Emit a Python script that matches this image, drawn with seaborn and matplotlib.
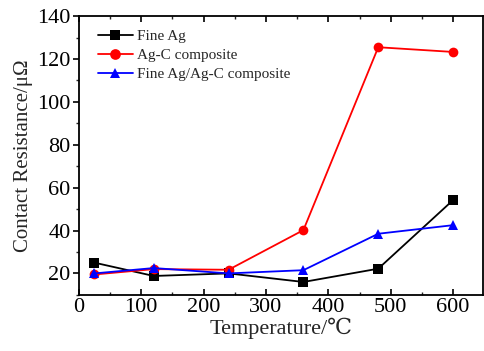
import pandas as pd
import matplotlib
matplotlib.use('Agg')
import matplotlib.pyplot as plt
import seaborn as sns
from matplotlib.ticker import MultipleLocator

# Data
temperature = [25, 120, 240, 360, 480, 600]
fine_ag = [25.0, 18.8, 20.0, 16.0, 22.2, 54.2]
ag_c = [19.5, 22.0, 21.7, 40.2, 125.5, 123.3]
fine_ag_ag_c = [20.0, 22.5, 20.0, 21.5, 38.5, 42.5]
series_names = ['Fine Ag', 'Ag-C composite', 'Fine Ag/Ag-C composite']

df = pd.concat([
    pd.DataFrame({'Temperature': temperature, 'R': vals, 'Sample': name})
    for name, vals in zip(series_names, [fine_ag, ag_c, fine_ag_ag_c])
])

sns.set_style('ticks')
plt.rcParams['font.family'] = ['Liberation Serif', 'DejaVu Serif', 'DejaVu Sans']

fig = plt.figure(figsize=(4.84, 3.51), dpi=100)
ax = fig.add_axes([0.163, 0.160, 0.835, 0.794])

sns.lineplot(data=df, x='Temperature', y='R', hue='Sample', style='Sample',
             hue_order=series_names, style_order=series_names,
             palette=['black', 'red', 'blue'], markers=['s', 'o', '^'],
             dashes=False, markersize=7, markeredgewidth=0, linewidth=1.3, ax=ax)

ax.set_xlim(0, 648)
ax.set_ylim(10, 140)
ax.xaxis.set_major_locator(MultipleLocator(100))
ax.xaxis.set_minor_locator(MultipleLocator(50))
ax.yaxis.set_major_locator(MultipleLocator(20))
ax.yaxis.set_minor_locator(MultipleLocator(10))
ax.tick_params(axis='both', which='major', labelsize=16, length=4, width=1.2,
               direction='in', colors='black', pad=2)
ax.tick_params(axis='both', which='minor', length=2, width=1, direction='in')
ax.tick_params(axis='x', which='both', top=True)
ax.tick_params(axis='y', which='both', direction='out')
for s in ax.spines.values():
    s.set_linewidth(1.3)
    s.set_color('black')

ax.set_xlabel('Temperature/\u2103', fontsize=16, labelpad=1)
ax.set_ylabel('Contact Resistance/\u03bc\u03a9', fontsize=15, labelpad=3)

ax.legend(loc='upper left', frameon=False, fontsize=11, handlelength=2.3,
          handletextpad=0.3, labelspacing=0.35, borderaxespad=0.3,
          bbox_to_anchor=(0.02, 0.99), markerscale=1.1)

fig.savefig('out.png', dpi=100)
